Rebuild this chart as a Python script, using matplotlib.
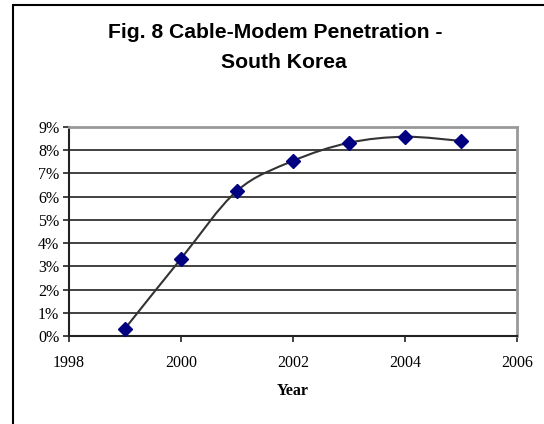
import matplotlib
matplotlib.use("Agg")
import matplotlib.pyplot as plt
import numpy as np
from matplotlib.path import Path
from matplotlib.patches import PathPatch, Rectangle
from matplotlib.ticker import FuncFormatter, MultipleLocator

years = [1999, 2000, 2001, 2002, 2003, 2004, 2005]
penetration = [0.0032, 0.0333, 0.0625, 0.0754, 0.0832, 0.0858, 0.0840]
title_lines = ["Fig. 8 Cable-Modem Penetration -", "South Korea"]
xlabel = "Year"

W, H, DPI = 544, 424, 100
fig = plt.figure(figsize=(W / DPI, H / DPI), dpi=DPI)
fig.patch.set_facecolor("white")

L, R, T, B = 69, 517, 127, 336
ax = fig.add_axes([L / W, (H - B) / H, (R - L) / W, (B - T) / H])

ax.set_xlim(1998, 2006)
ax.set_ylim(0, 0.09)
ax.xaxis.set_major_locator(MultipleLocator(2))
ax.yaxis.set_major_locator(MultipleLocator(0.01))
ax.yaxis.set_major_formatter(FuncFormatter(lambda v, p: f"{round(v*100)}%"))

ax.grid(axis="y", color="#333333", linewidth=1.3)
ax.set_axisbelow(True)
for s in ["top", "right"]:
    ax.spines[s].set_color("#999999")
    ax.spines[s].set_linewidth(2)
for s in ["left", "bottom"]:
    ax.spines[s].set_color("#222222")
    ax.spines[s].set_linewidth(1.5)

ax.tick_params(direction="out", length=4, width=1.2, color="#222222",
               labelsize=11.5, pad=3)
for lab in ax.get_xticklabels() + ax.get_yticklabels():
    lab.set_fontfamily("Liberation Serif")
ax.tick_params(axis="x", pad=10)

# Smoothed line (Excel-style Bezier through the data points)
xs = np.array(years, dtype=float)
ys = np.array(penetration, dtype=float)
n = len(xs)
verts = [(xs[0], ys[0])]
codes = [Path.MOVETO]
for i in range(n - 1):
    p0 = np.array([xs[max(i - 1, 0)], ys[max(i - 1, 0)]])
    p1 = np.array([xs[i], ys[i]])
    p2 = np.array([xs[i + 1], ys[i + 1]])
    p3 = np.array([xs[min(i + 2, n - 1)], ys[min(i + 2, n - 1)]])
    c1 = p1 + (p2 - p0) / 6.0
    c2 = p2 - (p3 - p1) / 6.0
    verts += [tuple(c1), tuple(c2), tuple(p2)]
    codes += [Path.CURVE4] * 3
ax.add_patch(PathPatch(Path(verts, codes), facecolor="none",
                       edgecolor="#333333", linewidth=1.5, zorder=3))
ax.plot(years, penetration, linestyle="none", marker="D", markersize=6.9,
        markerfacecolor="#000080", markeredgecolor="#000080", zorder=4,
        clip_on=False)

ax.set_xlabel(xlabel, fontfamily="Liberation Serif", fontweight="bold",
              fontsize=11.5, labelpad=8)

fig.text(275 / W, (H - 33) / H, title_lines[0], ha="center", va="center",
         fontfamily="Liberation Sans", fontweight="bold", fontsize=15.2)
fig.text(284 / W, (H - 62) / H, title_lines[1], ha="center", va="center",
         fontfamily="Liberation Sans", fontweight="bold", fontsize=15.2)

# outer chart border (left and top visible)
fig.add_artist(Rectangle((13 / W, -0.1), 1.2, (H - 5) / H + 0.1,
                         transform=fig.transFigure, fill=False,
                         edgecolor="black", linewidth=1.5, clip_on=False))

fig.savefig("out.png", dpi=DPI)
